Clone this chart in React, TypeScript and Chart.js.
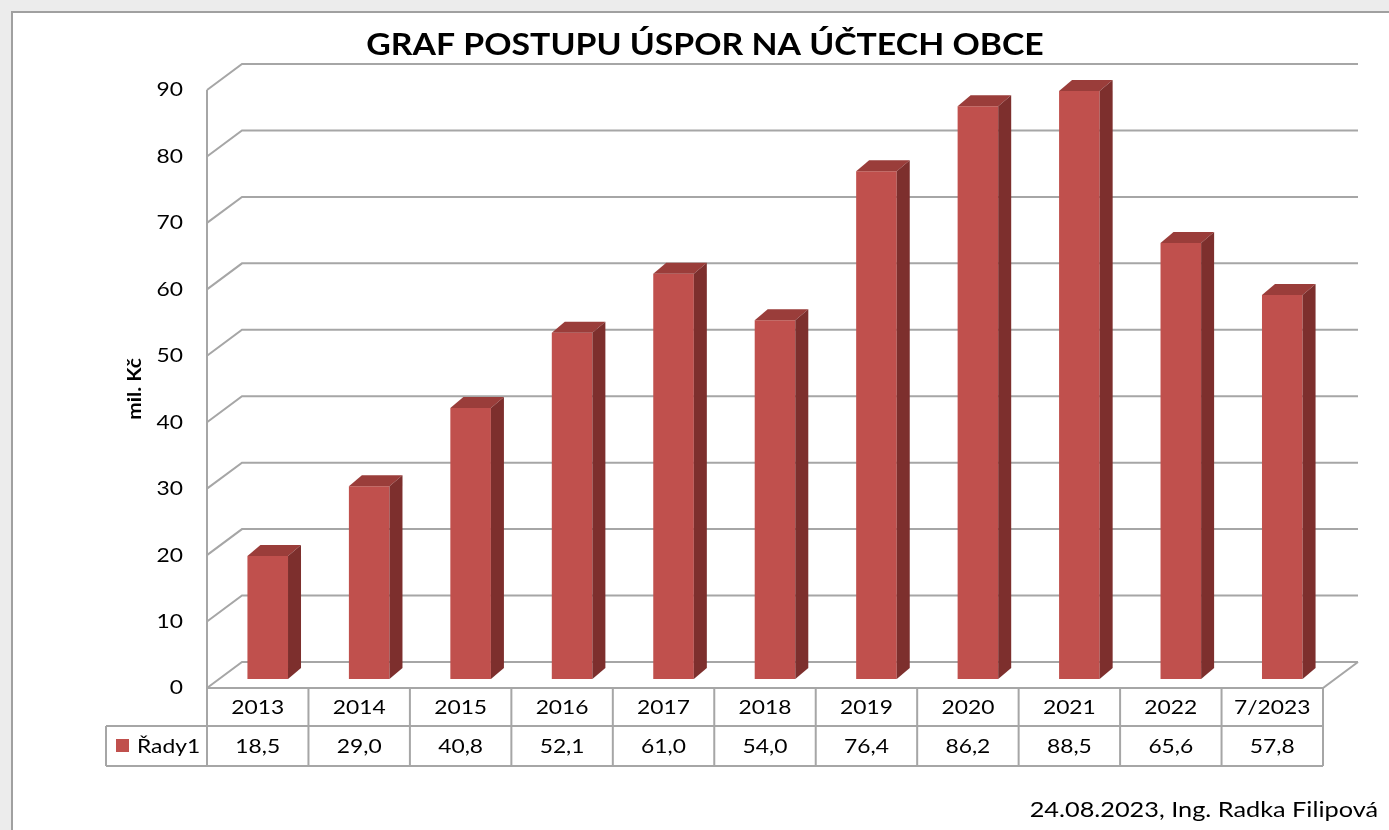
import React, { useEffect, useRef } from "react";
import { Chart, registerables } from "chart.js";

Chart.register(...registerables);

const categories = ["2013", "2014", "2015", "2016", "2017", "2018", "2019", "2020", "2021", "2022", "7/2023"];
const values = [18.5, 29.0, 40.8, 52.1, 61.0, 54.0, 76.4, 86.2, 88.5, 65.6, 57.8];
const valueLabels = ["18,5", "29,0", "40,8", "52,1", "61,0", "54,0", "76,4", "86,2", "88,5", "65,6", "57,8"];
const yTickValues = [0, 10, 20, 30, 40, 50, 60, 70, 80, 90];
const seriesName = "Řady1";
const titleText = "GRAF POSTUPU ÚSPOR NA ÚČTECH OBCE";
const yTitleText = "mil. Kč";
const footerText = "24.08.2023, Ing. Radka Filipová";

const W = 1389;
const H = 830;
const WALL_DX = 35;
const WALL_DY = -26;
const BAR_DX = 10;
const BAR_DY = -9;
const BAR_DEPTH_DX = 13;
const BAR_DEPTH_DY = -11;
const GRID = "#a6a6a6";
const FRONT = "#c0504d";
const TOP = "#9a3d3a";
const SIDE = "#7d2f2d";
const FONT = "Lato, 'Open Sans', sans-serif";
const STRETCH = 1.14;

function stretchedText(
  ctx: CanvasRenderingContext2D,
  text: string,
  x: number,
  y: number,
  font: string,
  align: CanvasTextAlign,
  baseline: CanvasTextBaseline,
  sx: number
) {
  ctx.save();
  ctx.font = font;
  ctx.textAlign = align;
  ctx.textBaseline = baseline;
  ctx.translate(x, y);
  ctx.scale(sx, 1);
  ctx.fillText(text, 0, 0);
  ctx.restore();
}

const pseudo3d = {
  id: "pseudo3d",
  beforeDraw(chart: any) {
    const ctx = chart.ctx as CanvasRenderingContext2D;
    const ca = chart.chartArea;
    const ys = chart.scales.y;
    const xs = chart.scales.x;
    ctx.save();
    // page + frame
    ctx.fillStyle = "#ececec";
    ctx.fillRect(0, 0, W, H);
    ctx.fillStyle = "#ffffff";
    ctx.fillRect(11, 11, W, H);
    ctx.strokeStyle = "#a0a0a0";
    ctx.lineWidth = 2;
    ctx.strokeRect(12, 12, W + 20, H + 20);

    ctx.fillStyle = "#000";
    // title
    stretchedText(ctx, titleText, 705, 55, "bold 31px " + FONT, "center", "alphabetic", 1.09);

    // walls & gridlines
    ctx.strokeStyle = GRID;
    ctx.lineWidth = 2;
    for (const v of yTickValues) {
      const yf = ys.getPixelForValue(v);
      ctx.beginPath();
      ctx.moveTo(ca.left, yf);
      ctx.lineTo(ca.left + WALL_DX, yf + WALL_DY);
      ctx.lineTo(ca.right + WALL_DX, yf + WALL_DY);
      ctx.stroke();
    }
    ctx.beginPath();
    ctx.moveTo(ca.left, ys.getPixelForValue(90));
    ctx.lineTo(ca.left, 766);
    ctx.stroke();
    // floor right edge + front edge
    ctx.beginPath();
    ctx.moveTo(ca.right + WALL_DX, ca.bottom + WALL_DY);
    ctx.lineTo(ca.right, ca.bottom);
    ctx.lineTo(ca.left, ca.bottom);
    ctx.stroke();

    // y tick labels
    ctx.fillStyle = "#000";
    for (const v of yTickValues) {
      stretchedText(ctx, String(v), 183, ys.getPixelForValue(v), "20px " + FONT, "right", "middle", STRETCH);
    }

    // y title
    ctx.save();
    ctx.translate(135, 389);
    ctx.rotate(-Math.PI / 2);
    stretchedText(ctx, yTitleText, 0, 0, "bold 19px " + FONT, "center", "middle", 1.1);
    ctx.restore();

    // data table
    const rowTop = ca.bottom;
    const rowMid = 726;
    const rowBot = 766;
    const catW = (ca.right - ca.left) / categories.length;
    ctx.strokeStyle = GRID;
    ctx.lineWidth = 2;
    ctx.beginPath();
    for (let i = 0; i <= categories.length; i++) {
      const x = ca.left + i * catW;
      ctx.moveTo(x, rowTop);
      ctx.lineTo(x, rowBot);
    }
    ctx.moveTo(106, rowMid);
    ctx.lineTo(ca.right, rowMid);
    ctx.moveTo(106, rowBot);
    ctx.lineTo(ca.right, rowBot);
    ctx.moveTo(106, rowMid);
    ctx.lineTo(106, rowBot);
    ctx.stroke();

    ctx.fillStyle = "#000";
    categories.forEach((c, i) => {
      const x = xs.getPixelForValue(i);
      stretchedText(ctx, c, x, (rowTop + rowMid) / 2 + 1, "20px " + FONT, "center", "middle", STRETCH);
      stretchedText(ctx, valueLabels[i], x, (rowMid + rowBot) / 2 + 1, "20px " + FONT, "center", "middle", STRETCH);
    });
    // legend key
    ctx.fillStyle = FRONT;
    ctx.fillRect(116, 739, 13, 13);
    ctx.fillStyle = "#000";
    stretchedText(ctx, seriesName, 137, (rowMid + rowBot) / 2 + 1, "20px " + FONT, "left", "middle", STRETCH);

    // footer
    stretchedText(ctx, footerText, 1378, 817, "22px " + FONT, "right", "alphabetic", 1.15);
    ctx.restore();
  },
  beforeDatasetsDraw(chart: any) {
    chart.ctx.save();
    chart.ctx.translate(BAR_DX, BAR_DY);
  },
  afterDatasetsDraw(chart: any) {
    const ctx = chart.ctx as CanvasRenderingContext2D;
    const meta = chart.getDatasetMeta(0);
    meta.data.forEach((el: any) => {
      const p = el.getProps(["x", "y", "base", "width"], true);
      const xl = p.x - p.width / 2;
      const xr = p.x + p.width / 2;
      const yt = p.y;
      const yb = p.base;
      ctx.fillStyle = TOP;
      ctx.beginPath();
      ctx.moveTo(xl, yt);
      ctx.lineTo(xr, yt);
      ctx.lineTo(xr + BAR_DEPTH_DX, yt + BAR_DEPTH_DY);
      ctx.lineTo(xl + BAR_DEPTH_DX, yt + BAR_DEPTH_DY);
      ctx.closePath();
      ctx.fill();
      ctx.fillStyle = SIDE;
      ctx.beginPath();
      ctx.moveTo(xr, yt);
      ctx.lineTo(xr + BAR_DEPTH_DX, yt + BAR_DEPTH_DY);
      ctx.lineTo(xr + BAR_DEPTH_DX, yb + BAR_DEPTH_DY);
      ctx.lineTo(xr, yb);
      ctx.closePath();
      ctx.fill();
    });
    ctx.restore();
  },
};

export default function App() {
  const ref = useRef<HTMLCanvasElement | null>(null);
  useEffect(() => {
    if (!ref.current) return;
    const chart = new Chart(ref.current, {
      type: "bar",
      data: {
        labels: categories,
        datasets: [
          {
            label: seriesName,
            data: values,
            backgroundColor: FRONT,
            borderWidth: 0,
            barPercentage: 0.8,
            categoryPercentage: 0.5,
            clip: false,
          } as any,
        ],
      },
      options: {
        responsive: false,
        animation: false,
        events: [],
        layout: { padding: { left: 207, top: 90, right: W - 1323, bottom: H - 688 } },
        plugins: { legend: { display: false }, tooltip: { enabled: false }, title: { display: false } },
        scales: {
          x: { display: false, offset: true },
          y: { display: false, min: 0, max: 90, ticks: { stepSize: 10 } },
        },
      },
      plugins: [pseudo3d],
    });
    return () => chart.destroy();
  }, []);
  return (
    <div style={{ position: "fixed", left: 0, top: 0, width: W, height: H }}>
      <canvas ref={ref} width={W} height={H} style={{ display: "block" }} />
    </div>
  );
}
